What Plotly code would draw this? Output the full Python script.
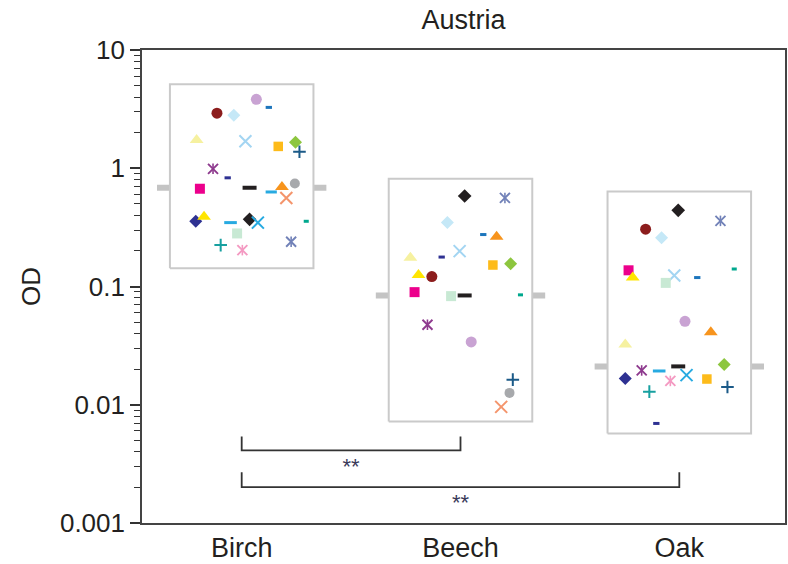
import plotly.graph_objects as go

# ---------------- data ----------------
categories = ["Birch", "Beech", "Oak"]
tick_vals = [0.001, 0.01, 0.1, 1, 10]
tick_text = ["0.001", "0.01", "0.1", "1", "10"]
minor_vals = [m * 10 ** e for e in (-3, -2, -1, 0) for m in range(2, 10)]

# per-group range boxes and medians (OD)
box_low = [0.1425, 0.00722, 0.00572]
box_high = [5.13, 0.814, 0.637]
medians = [0.684, 0.0840, 0.0211]
median_jitter = [0.036, 0.019, -0.005]

# individual samples: OD values per tree species (None = not shown)
birch = [2.92, 2.81, 3.83, 3.27, 1.73, 1.69, 1.53, 1.66, 1.38, 0.989, 0.830, 0.671, 0.630,
         0.693, 0.744, 0.561, 0.356, 0.388, 0.347, 0.370, 0.347, 0.356, 0.281, 0.224, 0.203, 0.239]
beech = [0.1214, 0.347, 0.0340, 0.275, 0.1753, 0.199, 0.1519, 0.1561, 0.0163, 0.0475, 0.1774, 0.0896, None,
         0.263, 0.0126, 0.0096, None, 0.1252, None, 0.583, None, 0.0850, 0.0829, None, None, 0.561]
oak = [0.305, 0.258, 0.0508, 0.119, 0.0323, 0.1238, 0.0165, 0.0219, 0.01414, 0.0195, 0.00695, 0.1371, None,
       0.0410, None, None, 0.0167, 0.119, 0.0193, 0.441, 0.0178, 0.1406, 0.1073, 0.0129, 0.0159, 0.359]

# horizontal jitter of each sample within its group
birch_jit = [-0.113, -0.036, 0.067, 0.124, -0.206, 0.017, 0.167, 0.246, 0.264, -0.131, -0.064, -0.191, 0.135,
             0.184, 0.243, 0.204, -0.210, -0.172, -0.051, 0.036, 0.074, 0.295, -0.021, -0.096, 0.003, 0.226]
beech_jit = [-0.131, -0.060, 0.049, 0.104, -0.229, -0.004, 0.148, 0.229, 0.239, -0.151, -0.086, -0.210, None,
             0.165, 0.224, 0.186, None, -0.192, None, 0.019, None, 0.274, -0.043, None, None, 0.203]
oak_jit = [-0.154, -0.081, 0.026, 0.082, -0.247, -0.023, 0.126, 0.205, 0.220, -0.172, -0.105, -0.232, None,
           0.144, None, None, -0.247, -0.213, -0.092, -0.005, 0.033, 0.251, -0.062, -0.137, -0.041, 0.188]

# significance brackets
bracket_pairs = [(0, 1), (0, 2)]
bracket_base = [0.00412, 0.00201]
bracket_tip = [0.0054, 0.00269]
bracket_text = ["**", "**"]
bracket_text_y = [0.00291, 0.001447]

# ---------------- styles ----------------
symbols = ["circle", "diamond", "circle", "line-ew", "triangle-up", "x-thin-open", "square", "diamond",
           "cross-thin-open", "star6", "line-ew", "square", "line-ew", "triangle-up", "circle",
           "x-thin-open", "diamond", "triangle-up", "line-ew", "diamond", "x-thin-open", "line-ew", "square",
           "cross-thin-open", "star6", "star6"]
colors = ["#8c1d1d", "#c5e8f7", "#c9a3d3", "#1c75bc", "#f6f1a0", "#a3d5f2", "#fdbb1a", "#8dc63f",
          "#1b5a88", "#8e3a8e", "#2e3192", "#ec008c", "#27aae1", "#f7941d", "#a7a9ac",
          "#f4956c", "#2e3192", "#ffe500", "#27aae1", "#231f20", "#27aae1", "#00a88e", "#c8e9d4",
          "#17a0a0", "#f49ac2", "#7282b8"]
sizes = [11, 10, 11, 4.5, 12, 12, 9.5, 10, 9, 10, 4.5, 10, 8, 12, 10, 12, 10, 12, 9, 10.5, 12, 3.6, 10, 9, 10, 10]
line_w = [0, 0, 0, 3, 0, 2, 0, 0, 2, 1.9, 3, 0, 3, 0, 0, 2, 0, 0, 3, 0, 2, 3, 0, 2, 1.9, 1.9]

FONT = "Liberation Sans, Arial, Helvetica, sans-serif"
TXT = "#231f20"
BOX_HW = 0.328
MED_HW = 0.387

fig = go.Figure()

# median bars (behind boxes)
for g, m in enumerate(medians):
    fig.add_trace(go.Scatter(x=[g - MED_HW, g + MED_HW], y=[m, m], mode="lines",
                             line=dict(color="#c4c4c4", width=6), hoverinfo="skip", showlegend=False))
# range boxes
for g, (lo, hi) in enumerate(zip(box_low, box_high)):
    fig.add_trace(go.Scatter(x=[g - BOX_HW, g + BOX_HW, g + BOX_HW, g - BOX_HW, g - BOX_HW],
                             y=[lo, lo, hi, hi, lo], mode="lines", fill="toself", fillcolor="white",
                             line=dict(color="#cacaca", width=2), hoverinfo="skip", showlegend=False))

# median marker (black dash)
fig.add_trace(go.Scatter(x=[g + j for g, j in enumerate(median_jitter)], y=medians, mode="markers",
                         marker=dict(symbol="line-ew", size=10, color=TXT, line=dict(color=TXT, width=4)),
                         hoverinfo="skip", showlegend=False))

groups = [(birch, birch_jit), (beech, beech_jit), (oak, oak_jit)]
for i in range(len(symbols)):
    xs, ys = [], []
    for g, (vals, jit) in enumerate(groups):
        if vals[i] is not None:
            xs.append(g + jit[i])
            ys.append(vals[i])
    if symbols[i] == "star6":
        # six-armed asterisk: an X plus a vertical bar
        fig.add_trace(go.Scatter(x=xs, y=ys, mode="markers", showlegend=False,
                                 marker=dict(symbol="x-thin-open", size=10, color=colors[i],
                                             line=dict(color=colors[i], width=line_w[i]))))
        fig.add_trace(go.Scatter(x=xs, y=ys, mode="markers", showlegend=False, hoverinfo="skip",
                                 marker=dict(symbol="line-ns-open", size=7.5, color=colors[i],
                                             line=dict(color=colors[i], width=1.6))))
    else:
        fig.add_trace(go.Scatter(x=xs, y=ys, mode="markers", showlegend=False,
                                 marker=dict(symbol=symbols[i], size=sizes[i], color=colors[i],
                                             line=dict(color=colors[i], width=line_w[i]))))

# significance brackets
for (a, b), base, tip, t, ty in zip(bracket_pairs, bracket_base, bracket_tip, bracket_text, bracket_text_y):
    fig.add_trace(go.Scatter(x=[a, a, b, b], y=[tip, base, base, tip], mode="lines",
                             line=dict(color="#333333", width=1.8), hoverinfo="skip", showlegend=False))
    fig.add_trace(go.Scatter(x=[(a + b) / 2], y=[ty], mode="text", text=[t],
                             textfont=dict(size=22, color="#3a3a5a", family=FONT),
                             hoverinfo="skip", showlegend=False))

fig.update_layout(
    width=788, height=564,
    margin=dict(l=142, r=1, t=50, b=38),
    paper_bgcolor="white", plot_bgcolor="white",
    font=dict(family=FONT, color=TXT),
    title=dict(text="Austria", x=0.5, xref="paper", xanchor="center", y=1 - 20 / 564, yanchor="middle",
               font=dict(size=27, color=TXT, family=FONT)),
    xaxis=dict(range=[-0.4556, 2.483], tickmode="array", tickvals=list(range(len(categories))),
               ticktext=categories, ticks="", showgrid=False, zeroline=False,
               showline=True, mirror=True, linecolor="#444444", linewidth=1.6,
               tickfont=dict(size=27, color=TXT)),
    yaxis=dict(type="log", range=[-3, 1], tickmode="array", tickvals=tick_vals, ticktext=tick_text,
               ticks="outside", ticklen=10, tickwidth=1.5, tickcolor="#333333",
               minor=dict(tickmode="array", tickvals=minor_vals, ticks="outside", ticklen=6,
                          tickwidth=1.3, tickcolor="#333333", showgrid=False),
               showgrid=False, zeroline=False, showline=True, mirror=True,
               linecolor="#444444", linewidth=1.6,
               tickfont=dict(size=26, color=TXT),
               title=dict(text="OD", font=dict(size=26, color=TXT), standoff=12)),
)

fig.write_html("out.html")
